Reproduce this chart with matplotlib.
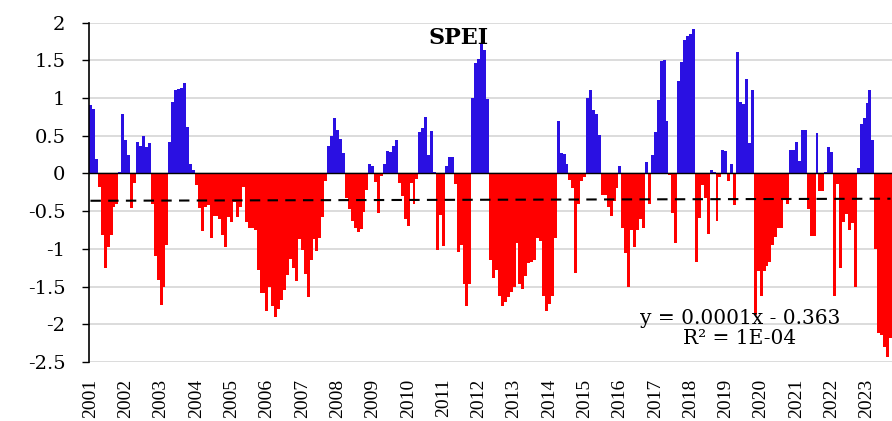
import numpy as np
import matplotlib
matplotlib.use("Agg")
import matplotlib.pyplot as plt

# monthly SPEI, Jan 2001 onward
spei_2001_2005 = [0.9, 0.85, 0.19, -0.18, -0.82, -1.26, -0.97, -0.82, -0.45, -0.4, 0.02, 0.79,
                  0.44, 0.25, -0.46, -0.13, 0.41, 0.36, 0.49, 0.35, 0.4, -0.4, -1.1, -1.41,
                  -1.74, -1.5, -0.95, 0.41, 0.95, 1.11, 1.12, 1.13, 1.2, 0.61, 0.13, 0.05,
                  -0.15, -0.46, -0.77, -0.44, -0.42, -0.85, -0.57, -0.57, -0.6, -0.82, -0.98, -0.58,
                  -0.65, -0.38, -0.58, -0.44, -0.18, -0.64, -0.72, -0.72, -0.75, -1.28, -1.59, -1.59]
spei_2006_2010 = [-1.82, -1.5, -1.76, -1.9, -1.8, -1.68, -1.55, -1.35, -1.14, -1.25, -1.42, -0.87,
                  -1.02, -1.33, -1.64, -1.15, -0.87, -1.03, -0.85, -0.58, -0.1, 0.36, 0.5, 0.74,
                  0.58, 0.46, 0.27, -0.33, -0.47, -0.63, -0.73, -0.78, -0.74, -0.51, -0.22, 0.12,
                  0.1, -0.11, -0.52, -0.04, 0.13, 0.3, 0.28, 0.36, 0.44, -0.13, -0.3, -0.6,
                  -0.7, -0.13, -0.4, -0.07, 0.55, 0.6, 0.75, 0.24, 0.56, 0.02, -1.02, -0.55]
spei_2011_2015 = [-0.96, 0.1, 0.22, 0.22, -0.14, -1.04, -0.95, -1.46, -1.76, -1.46, 1.0, 1.46,
                  1.51, 1.71, 1.64, 0.99, -1.15, -1.38, -1.28, -1.63, -1.76, -1.7, -1.64, -1.57,
                  -1.5, -0.92, -1.46, -1.53, -1.36, -1.19, -1.18, -1.15, -0.86, -0.9, -1.63, -1.82,
                  -1.73, -1.63, -0.85, 0.69, 0.27, 0.26, 0.12, -0.09, -0.2, -1.32, -0.4, -0.1,
                  -0.05, 1.0, 1.1, 0.84, 0.79, 0.51, -0.29, -0.29, -0.45, -0.57, -0.36, -0.2]
spei_2016_2020 = [0.1, -0.73, -1.06, -1.51, -0.75, -0.98, -0.75, -0.6, -0.73, 0.15, -0.4, 0.24,
                  0.55, 0.97, 1.49, 1.5, 0.69, -0.02, -0.53, -0.92, 1.23, 1.47, 1.77, 1.82,
                  1.85, 1.91, -1.17, -0.59, -0.16, -0.33, -0.8, 0.05, 0.02, -0.63, -0.05, 0.31,
                  0.3, -0.1, 0.12, -0.42, 1.61, 0.95, 0.92, 1.25, 0.4, 1.1, -1.88, -1.3,
                  -1.63, -1.3, -1.23, -1.17, -0.95, -0.84, -0.73, -0.72, -0.35, -0.4, 0.31, 0.31]
spei_2021_2023 = [0.42, 0.17, 0.58, 0.58, -0.47, -0.83, -0.83, 0.54, -0.24, -0.24, 0.02, 0.35,
                  0.28, -1.63, -0.14, -1.25, -0.65, -0.54, -0.75, -0.66, -1.5, 0.07, 0.66, 0.73,
                  0.93, 1.1, 0.44, -1.0, -2.11, -2.14, -2.3, -2.44, -2.18]

spei = np.array(spei_2001_2005 + spei_2006_2010 + spei_2011_2015 + spei_2016_2020 + spei_2021_2023)
years = [str(y) for y in range(2001, 2024)]

# linear trend reported on the chart
slope, intercept = 0.0001, -0.363

plt.rcParams['font.family'] = ['Liberation Serif', 'DejaVu Serif']
wide = ['DejaVu Serif']  # the reference text is stretched sideways

fig = plt.figure(figsize=(8.92, 4.21), dpi=100)
ax = fig.add_axes([89 / 892, 1 - 362 / 421, 1 - 89 / 892, (362 - 22.5) / 421])

x = np.arange(len(spei))
colors = np.where(spei >= 0, '#2A10E2', '#FF0000')
ax.bar(x, spei, width=1.0, color=colors, linewidth=0, zorder=2)

t = np.arange(1, len(spei) + 1)
ax.plot(x, slope * t + intercept, color='black', lw=1.5, dashes=(5, 3.5), zorder=3)

ax.axhline(0, color='black', lw=1.0, zorder=4)

ax.set_ylim(-2.5, 2)
ax.set_xlim(-0.5, len(spei) - 0.5)
ax.set_yticks(np.arange(-2.5, 2.01, 0.5))
ax.set_yticklabels(['-2.5', '-2', '-1.5', '-1', '-0.5', '0', '0.5', '1', '1.5', '2'],
                   family=wide, fontsize=14)
ax.yaxis.grid(True, color='#D9D9D9', lw=1.3, zorder=0)
ax.set_axisbelow(True)

ax.set_xticks(x[::12][:len(years)])
ax.set_xticklabels(years, rotation=90, fontsize=14)

for s in ['top', 'right', 'bottom']:
    ax.spines[s].set_visible(False)
ax.spines['left'].set_color('black')
ax.spines['left'].set_linewidth(1.2)
ax.tick_params(axis='y', direction='out', length=5, width=1.0, pad=12)
ax.tick_params(axis='x', length=0, pad=12)

fig.text(459 / 892, 1 - 38 / 421, 'SPEI', ha='center', va='center',
         fontsize=16, fontweight='bold', family=wide)
fig.text(740 / 892, 1 - 318 / 421, 'y = 0.0001x - 0.363', ha='center', va='center',
         fontsize=14.5, family=wide)
fig.text(740 / 892, 1 - 339 / 421, 'R² = 1E-04', ha='center', va='center',
         fontsize=14.5, family=wide)

fig.savefig('out.png', dpi=100)
